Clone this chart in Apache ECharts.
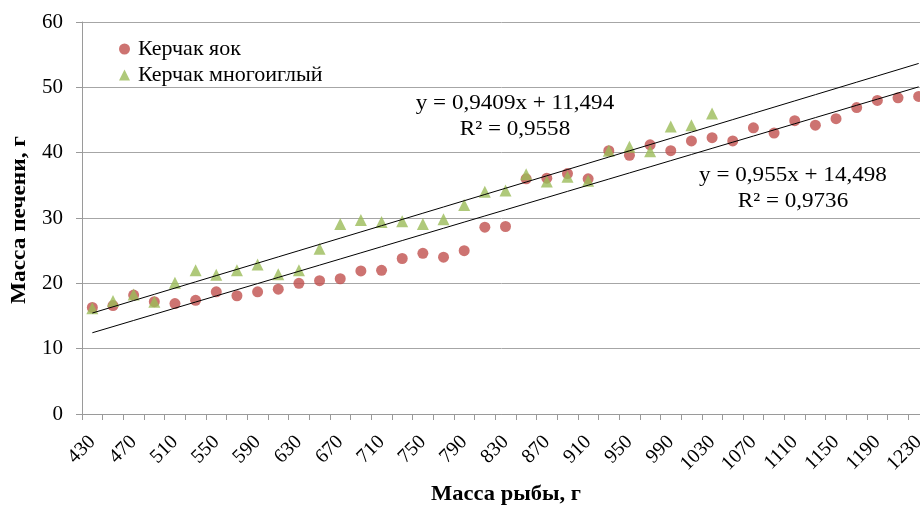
<!DOCTYPE html>
<html>
<head>
<meta charset="utf-8">
<script src="https://cdn.jsdelivr.net/npm/echarts@6/dist/echarts.min.js"></script>
<style>html,body{margin:0;padding:0;background:#fff}#c{width:920px;height:505px}</style>
</head>
<body>
<div id="c"></div>
<script>
const categories = ["430","450","470","490","510","530","550","570","590","610","630","650","670","690","710","730","750","770","790","810","830","850","870","890","910","930","950","970","990","1010","1030","1050","1070","1090","1110","1130","1150","1170","1190","1210","1230"];
const yakValues = [16.3,16.6,18.2,17.2,16.9,17.4,18.7,18.1,18.7,19.1,20.0,20.4,20.7,21.9,22.0,23.8,24.6,24.0,25.0,28.6,28.7,36.0,36.1,36.8,36.0,40.3,39.6,41.2,40.3,41.8,42.3,41.8,43.8,43.0,44.9,44.2,45.2,46.9,48.0,48.4,48.6];
const mnogValues = [16.2,17.3,18.3,17.2,20.1,22.0,21.3,22.0,22.9,21.4,22.0,25.3,29.1,29.7,29.4,29.5,29.1,29.8,32.0,34.0,34.2,36.7,35.6,36.3,35.7,40.3,40.9,40.2,44.0,44.2,46.0];
const seriesNames = ["Керчак яок","Керчак многоиглый"];
const xAxisName = "Масса рыбы, г";
const yAxisName = "Масса печени, г";
const trendYak = {slope: 0.9409, intercept: 11.494, label: "y = 0,9409x + 11,494", r2: "R² = 0,9558"};
const trendMnog = {slope: 0.955, intercept: 14.498, label: "y = 0,955x + 14,498", r2: "R² = 0,9736"};
const yTicks = {min: 0, max: 60, interval: 10};

function trend(t){ return categories.map((c,i)=> +(t.slope*(i+1)+t.intercept).toFixed(4)); }

const font = "'Liberation Serif','Times New Roman',serif";
const chart = echarts.init(document.getElementById('c'), null, {renderer:'canvas'});
chart.setOption({
  animation:false,
  backgroundColor:'#fff',
  grid:{left:82, top:22, right:-9, bottom:91, containLabel:false, outerBoundsMode:'none'},
  legend:{
    data:[{name:seriesNames[0], icon:'circle'},{name:seriesNames[1], icon:'triangle'}],
    orient:'vertical', left:114, top:33, itemGap:4, itemWidth:11, itemHeight:11,
    textStyle:{fontFamily:font, fontSize:22, color:'#000', padding:[0,0,0,3]}
  },
  xAxis:{
    type:'category', data:categories, boundaryGap:true,
    axisLine:{lineStyle:{color:'#9a9a9a', width:1}},
    axisTick:{show:true, interval:0, length:6, lineStyle:{color:'#9a9a9a'}},
    axisLabel:{interval:1, rotate:45, margin:25, fontFamily:font, fontSize:20, color:'#000'},
    splitLine:{show:false}
  },
  yAxis:{
    type:'value', min:yTicks.min, max:yTicks.max, interval:yTicks.interval,
    axisLine:{show:true, lineStyle:{color:'#9a9a9a', width:1}},
    axisTick:{show:true, length:6, lineStyle:{color:'#9a9a9a'}},
    axisLabel:{margin:19, fontFamily:font, fontSize:21, color:'#000'},
    splitLine:{lineStyle:{color:'#a6a6a6', width:1}}
  },
  series:[
    {name:seriesNames[0], type:'scatter', data:yakValues, symbol:'circle', symbolSize:11, itemStyle:{color:'#C0504D'}, z:2},
    {name:seriesNames[1], type:'scatter', data:mnogValues, symbol:'triangle', symbolSize:12, itemStyle:{color:'#9BBB59'}, z:3},
    {name:'trend1', type:'line', data:trend(trendYak), symbol:'none', lineStyle:{color:'#000', width:1}, z:4, silent:true},
    {name:'trend2', type:'line', data:trend(trendMnog), symbol:'none', lineStyle:{color:'#000', width:1}, z:4, silent:true}
  ],
  graphic:[
    {type:'text', x:515, y:90, scaleX:1.1, style:{text:trendYak.label+'\n'+trendYak.r2, font:"21px "+font, fill:'#000', align:'center', lineHeight:26}, z:10},
    {type:'text', x:793, y:162, scaleX:1.1, style:{text:trendMnog.label+'\n'+trendMnog.r2, font:"21px "+font, fill:'#000', align:'center', lineHeight:26}, z:10},
    {type:'text', x:506, y:495, scaleX:1.07, style:{text:xAxisName, font:"bold 21px "+font, fill:'#000', align:'center', verticalAlign:'middle'}, z:10},
    {type:'text', x:20, y:220, rotation:Math.PI/2, scaleX:1.11, style:{text:yAxisName, font:"bold 21px "+font, fill:'#000', align:'center', verticalAlign:'middle'}, z:10}
  ]
});
</script>
</body>
</html>
